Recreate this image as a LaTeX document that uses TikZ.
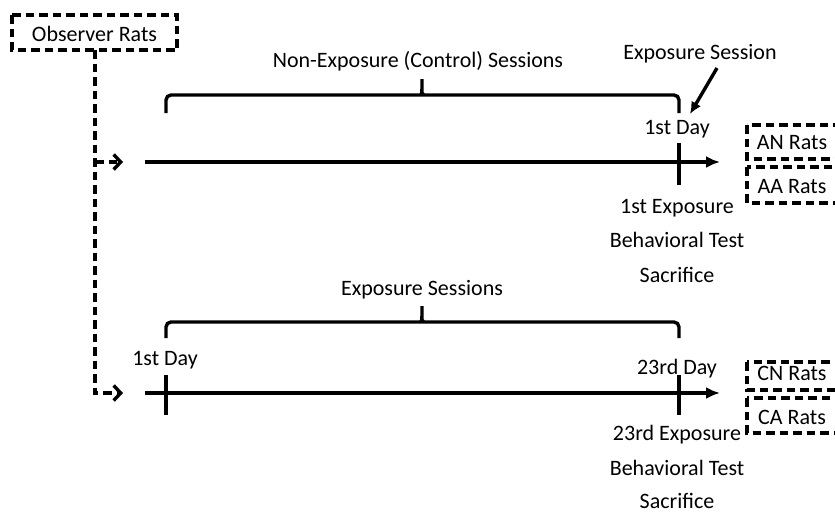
\documentclass[tikz,border=0pt]{standalone}
\usepackage{fontspec}
\setmainfont{Carlito}
\usetikzlibrary{arrows.meta}
\begin{document}
\begin{tikzpicture}[x=1pt,y=-1pt,
  lbl/.style={font=\fontsize{22}{24}\selectfont, inner sep=0pt, anchor=base},
  solid line/.style={line width=3.4pt},
  dline/.style={line width=3.4pt, dash pattern=on 8.5pt off 5pt},
  tl/.style={solid line, -{Latex[length=14pt,width=12pt]}},
  darr/.style={dline, -{Straight Barb[length=7pt,width=15pt,line width=3.4pt]}},
  brace/.style={solid line, rounded corners=5pt},
  ratbox/.style={dline}]
\useasboundingbox (0,0) rectangle (835,512);
% Observer box
\draw[ratbox] (12,15) rectangle (177,50);
\node[lbl] (obs) at (94.5,41) {Observer Rats};
\coordinate (obsb) at (95,50);
\coordinate (a1) at (123,162);
\coordinate (a2) at (123,393);
\coordinate (j1) at (95,162);
\draw[darr] (obsb) |- (a2);
\draw[darr] (j1) -- (a1);
% Top timeline
\coordinate (t1s) at (145,162);
\coordinate (t1e) at (720,162);
\draw[tl] (t1s) -- (t1e);
\coordinate (k1a) at (679,143);
\coordinate (k1b) at (679,185);
\draw[solid line] (k1a) -- (k1b);
\draw[brace] (166,113) -- (166,95) -- (419,95) to[out=0,in=-90] (422,88) -- (422,79)
  (422,88) to[out=-90,in=180] (425,95) -- (679,95) -- (679,113);
\node[lbl] (nes) at (418,67) {Non-Exposure (Control) Sessions};
\node[lbl] (es) at (700,59) {Exposure Session};
\coordinate (esa) at (717,68);
\coordinate (esb) at (690,114);
\draw[solid line, -{Latex[length=12pt,width=11pt]}] (esa) -- (esb);
\node[lbl] (d1) at (677,134) {1st Day};
\node[lbl] (e1) at (677,213) {1st Exposure};
\node[lbl] (bt1) at (677,247) {Behavioral Test};
\node[lbl] (s1) at (677,282) {Sacrifice};
\draw[ratbox] (747,125) rectangle (848,159);
\node[lbl] (an) at (792,149) {AN Rats};
\draw[ratbox] (747,167) rectangle (848,203);
\node[lbl] (aa) at (792,193) {AA Rats};
% Bottom timeline
\coordinate (t2s) at (145,393);
\coordinate (t2e) at (720,393);
\draw[tl] (t2s) -- (t2e);
\draw[solid line] (166,375) -- (166,415);
\draw[solid line] (679,375) -- (679,415);
\draw[brace] (166,338) -- (166,322) -- (419,322) to[out=0,in=-90] (422,315) -- (422,306)
  (422,315) to[out=-90,in=180] (425,322) -- (679,322) -- (679,338);
\node[lbl] (exs) at (422,295) {Exposure Sessions};
\node[lbl] (d2) at (165,365) {1st Day};
\node[lbl] (d23) at (677,374) {23rd Day};
\node[lbl] (e23) at (677,440) {23rd Exposure};
\node[lbl] (bt2) at (677,475) {Behavioral Test};
\node[lbl] (s2) at (677,508) {Sacrifice};
\draw[ratbox] (747,362) rectangle (848,390);
\node[lbl] (cn) at (792,380) {CN Rats};
\draw[ratbox] (747,398) rectangle (848,433);
\node[lbl] (ca) at (792,424) {CA Rats};
\end{tikzpicture}
\end{document}
